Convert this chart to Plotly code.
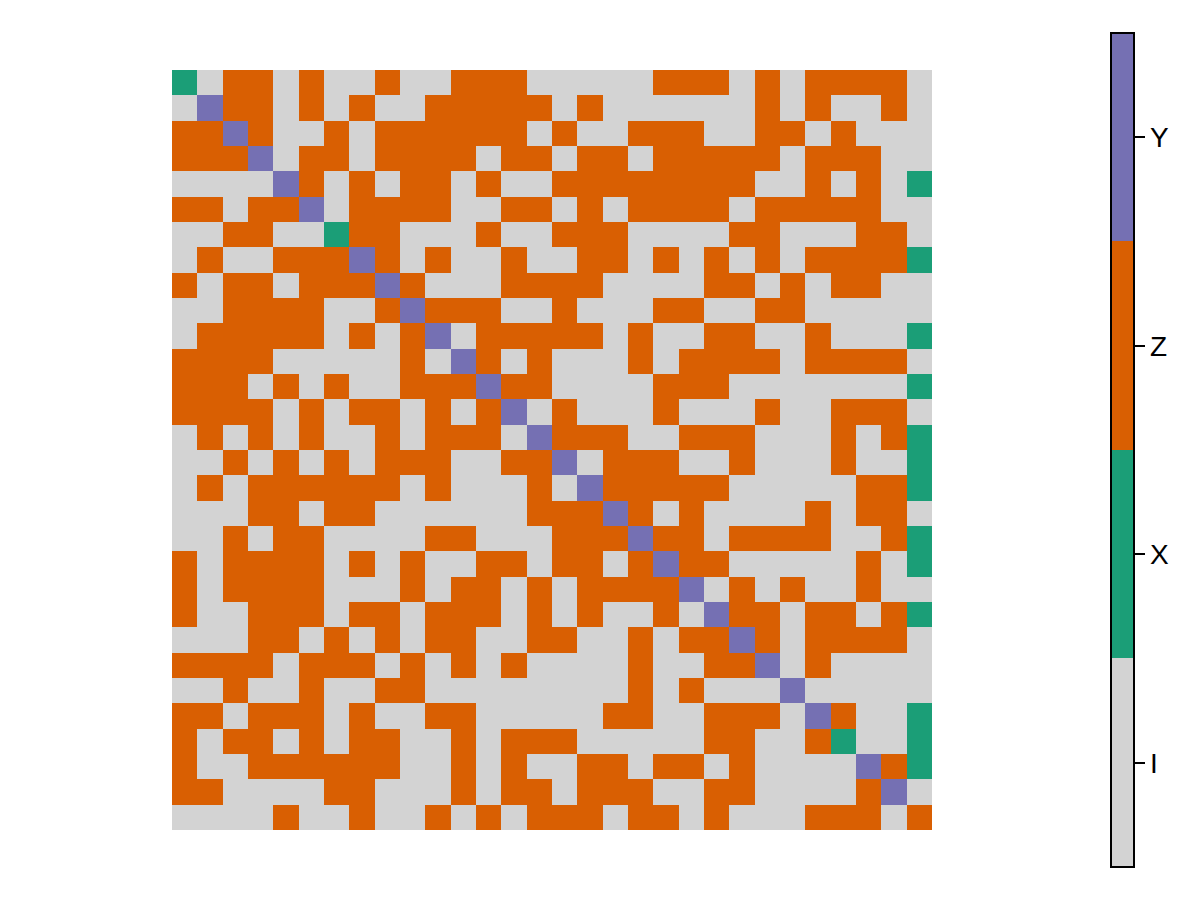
import plotly.graph_objects as go

# Pauli labels and their colours (index = value in the grid)
labels = ["I", "X", "Z", "Y"]
colors = ["#d3d3d3", "#1b9e77", "#d95f02", "#7570b3"]

# grid rows, top to bottom, one letter per cell (left half + right half)
rows = [
    "XIZZIZIIZIIZZZI" + "IIIIZZZIZIZZZZI",
    "IYZZIZIZIIZZZZZ" + "IZIIIIIIZIZIIZI",
    "ZZYZIIZIZZZZZZI" + "ZIIZZZIIZZIZIII",
    "ZZZYIZZIZZZZIZZ" + "IZZIZZZZZIZZZII",
    "IIIIYZIZIZZIZII" + "ZZZZZZZZIIZIZIX",
    "ZZIZZYIZZZZIIZZ" + "IZIZZZZIZZZZZII",
    "IIZZIIXZZIIIZII" + "ZZZIIIIZZIIIZZI",
    "IZIIZZZYZIZIIZI" + "IZZIZIZIZIZZZZX",
    "ZIZZIZZZYZIIIZZ" + "ZZIIIIZZIZIZZII",
    "IIZZZZIIZYZZZII" + "ZIIIZZIIZZIIIII",
    "IZZZZZIZIZYIZZZ" + "ZZIZIIZZIIZIIIX",
    "ZZZZIIIIIZIYZIZ" + "IIIZIZZZZIZZZZI",
    "ZZZIZIZIIZZZYZZ" + "IIIIZZZIIIIIIIX",
    "ZZZZIZIZZIZIZYI" + "ZIIIZIIIZIIZZZI",
    "IZIZIZIIZIZZZIY" + "ZZZIIZZZIIIZIZX",
    "IIZIZIZIZZZIIZZ" + "YIZZZIIZIIIZIIX",
    "IZIZZZZZZIZIIIZ" + "IYZZZZZIIIIIZZX",
    "IIIZZIZZIIIIIIZ" + "ZZYZIZIIIIZIZZI",
    "IIZIZZIIIIZZIII" + "ZZZYZZIZZZZIIZX",
    "ZIZZZZIZIZIIZZI" + "ZZIZYZZIIIIIZIX",
    "ZIZZZZIIIZIZZIZ" + "IZZZZYIZIZIIZII",
    "ZIIZZZIZZIZZZIZ" + "IZIIZIYZZIZZIZX",
    "IIIZZIZIZIZZIIZ" + "ZIIZIZZYZIZZZZI",
    "ZZZZIZZZIZIZIZI" + "IIIZIIZZYIZIIII",
    "IIZIIZIIZZIIIII" + "IIIZIZIIIYIIIII",
    "ZZIZZZIZIIZZIII" + "IIZZIIZZZIYZIIX",
    "ZIZZIZIZZIIZIZZ" + "ZIIIIIZZIIZXIIX",
    "ZIIZZZZZZIIZIZI" + "IZZIZZIZIIIIYZX",
    "ZZIIIIZZIIIZIZZ" + "IZZZIIZZIIIIZYI",
    "IIIIZIIZIIZIZIZ" + "ZZIZZIZIIIZZZIZ",
]

n = len(rows)
assert all(len(r) == n for r in rows)
z = [[labels.index(ch) for ch in r] for r in rows]

k = len(labels)
colorscale = []
for i, c in enumerate(colors):
    colorscale.append([i / k, c])
    colorscale.append([(i + 1) / k, c])

fig = go.Figure(
    go.Heatmap(
        z=z,
        x=list(range(n)),
        y=list(range(n)),
        zmin=-0.5,
        zmax=k - 0.5,
        colorscale=colorscale,
        xgap=0,
        ygap=0,
        hoverinfo="skip",
        colorbar=dict(
            tickvals=list(range(k)),
            ticktext=labels,
            ticks="outside",
            ticklen=10,
            tickwidth=2,
            tickcolor="black",
            tickfont=dict(family="Liberation Sans, Arial, sans-serif", size=28, color="black"),
            outlinewidth=2,
            outlinecolor="black",
            thickness=23,
            thicknessmode="pixels",
            lenmode="pixels",
            len=834,
            xref="container",
            yref="paper",
            x=1111 / 1200,
            xanchor="left",
            y=0.5,
            yanchor="middle",
            xpad=0,
            ypad=0,
        ),
    )
)

fig.update_layout(
    width=1200,
    height=900,
    autosize=False,
    margin=dict(l=172, r=268, t=70, b=70, pad=0),
    paper_bgcolor="white",
    plot_bgcolor="white",
    showlegend=False,
)
fig.update_xaxes(
    range=[-0.5, n - 0.5],
    showgrid=False,
    zeroline=False,
    showticklabels=False,
    ticks="",
    showline=False,
    constrain="domain",
)
fig.update_yaxes(
    range=[n - 0.5, -0.5],
    showgrid=False,
    zeroline=False,
    showticklabels=False,
    ticks="",
    showline=False,
)

fig.write_html("out.html")
